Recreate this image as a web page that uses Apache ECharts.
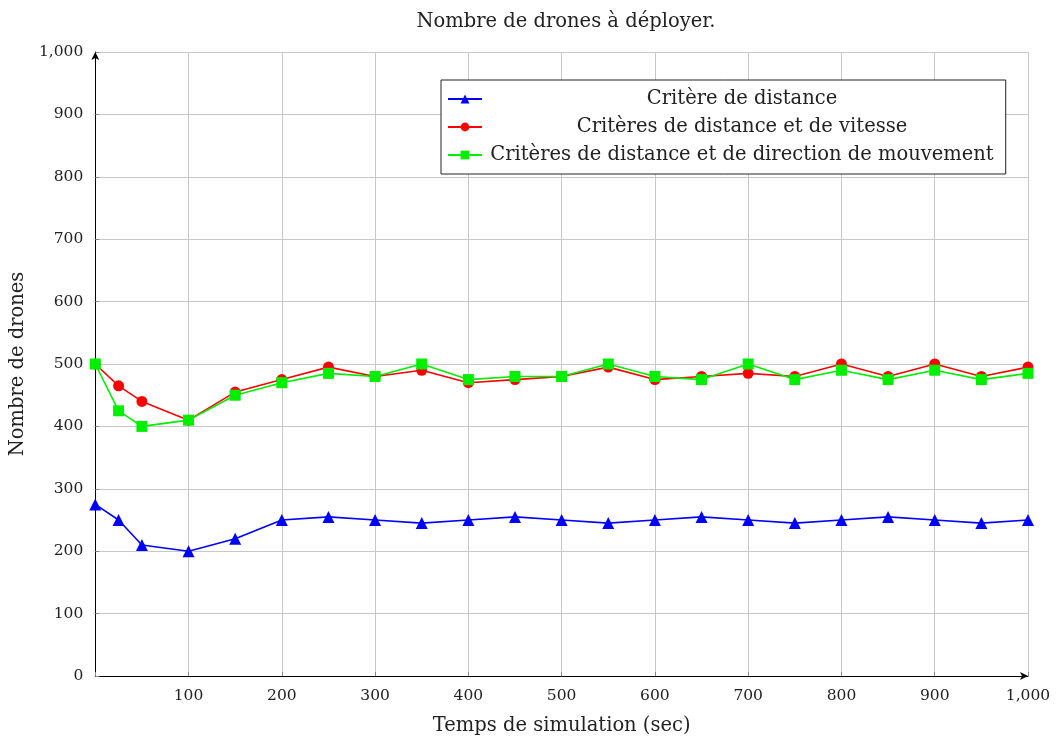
<!DOCTYPE html>
<html lang="fr">
<head>
    <meta charset="UTF-8">
    <title>Nombre de drones</title>
    <style type="text/css">
        body, html{width: 100%;height: 100%;margin:0;background:#fff;}
        #main {width: 1057px; height:743px;}
    </style>
    <script src="https://cdn.jsdelivr.net/npm/echarts@6/dist/echarts.min.js"></script>
</head>
<body>
<div id="main"></div>
<script type="text/javascript">
    // temps de simulation (sec)
    var temps = [0, 25, 50, 100, 150, 200, 250, 300, 350, 400, 450, 500, 550, 600, 650, 700, 750, 800, 850, 900, 950, 1000];
    var distance = [275, 250, 210, 200, 220, 250, 255, 250, 245, 250, 255, 250, 245, 250, 255, 250, 245, 250, 255, 250, 245, 250];
    var distVitesse = [500, 465, 440, 410, 455, 475, 495, 480, 490, 470, 475, 480, 495, 475, 480, 485, 480, 500, 480, 500, 480, 495];
    var distDirection = [500, 425, 400, 410, 450, 470, 485, 480, 500, 475, 480, 480, 500, 480, 475, 500, 475, 490, 475, 490, 475, 485];
    var noms = ['Critère de distance', 'Critères de distance et de vitesse', 'Critères de distance et de direction de mouvement'];

    function paires(ys){
        var out = [];
        for(var i = 0; i < temps.length; i++){
            out.push([temps[i], ys[i]]);
        }
        return out;
    }

    var police = '"DejaVu Serif", "Liberation Serif", serif';

    function serie(nom, ys, couleur, symbole, taille){
        return {
            name: nom,
            type: 'line',
            data: paires(ys),
            symbol: symbole,
            symbolSize: taille,
            showAllSymbol: true,
            lineStyle: {color: couleur, width: 1.6},
            itemStyle: {color: couleur},
            animation: false
        };
    }

    var chart = echarts.init(document.getElementById('main'));
    chart.setOption({
        backgroundColor: '#fff',
        textStyle: {fontFamily: police},
        title: {
            text: 'Nombre de drones à déployer.',
            left: 561, top: 7, textAlign: 'center',
            textStyle: {fontFamily: police, fontSize: 19.5, fontWeight: 'normal', color: '#222'}
        },
        legend: {
            orient: 'vertical',
            left: 441, top: 80,
            padding: [9, 12, 9, 6],
            itemGap: 8,
            itemWidth: 34,
            itemHeight: 11,
            borderColor: '#222',
            borderWidth: 1,
            borderRadius: 0,
            backgroundColor: '#fff',
            data: noms,
            formatter: function(n){ return '{c|' + n + '}'; },
            textStyle: {
                fontFamily: police, fontSize: 19.5, color: '#222',
                rich: {c: {width: 510, height: 20, align: 'center', fontFamily: police, fontSize: 19.5, color: '#222'}}
            }
        },
        grid: {left: 95, right: 29, top: 52, bottom: 67},
        xAxis: {
            type: 'value', min: 0, max: 1000, interval: 100,
            name: 'Temps de simulation (sec)',
            nameLocation: 'middle', nameGap: 40,
            nameTextStyle: {fontFamily: police, fontSize: 19.5, color: '#222'},
            axisLine: {lineStyle: {color: '#000', width: 1}, symbol: ['none', 'arrow'], symbolSize: [6, 8]},
            axisTick: {show: true, inside: true, length: 4, lineStyle: {color: '#888'}},
            axisLabel: {
                fontFamily: police, fontSize: 15.5, color: '#222', margin: 12,
                formatter: function(v){ return v === 0 ? '' : v.toLocaleString('en-US'); }
            },
            splitLine: {show: true, lineStyle: {color: '#c8c8c8', width: 1}}
        },
        yAxis: {
            type: 'value', min: 0, max: 1000, interval: 100,
            name: 'Nombre de drones',
            nameLocation: 'middle', nameGap: 57,
            nameTextStyle: {fontFamily: police, fontSize: 19.5, color: '#222'},
            axisLine: {show: true, lineStyle: {color: '#000', width: 1}, symbol: ['none', 'arrow'], symbolSize: [6, 8]},
            axisTick: {show: true, inside: true, length: 4, lineStyle: {color: '#888'}},
            axisLabel: {
                fontFamily: police, fontSize: 15.5, color: '#222', margin: 12,
                formatter: function(v){ return v.toLocaleString('en-US'); }
            },
            splitLine: {show: true, lineStyle: {color: '#c8c8c8', width: 1}}
        },
        series: [
            serie(noms[0], distance, '#0000ff', 'triangle', 12),
            serie(noms[1], distVitesse, '#ff0000', 'circle', 11),
            serie(noms[2], distDirection, '#00ee00', 'rect', 11)
        ]
    });
</script>
</body>
</html>
